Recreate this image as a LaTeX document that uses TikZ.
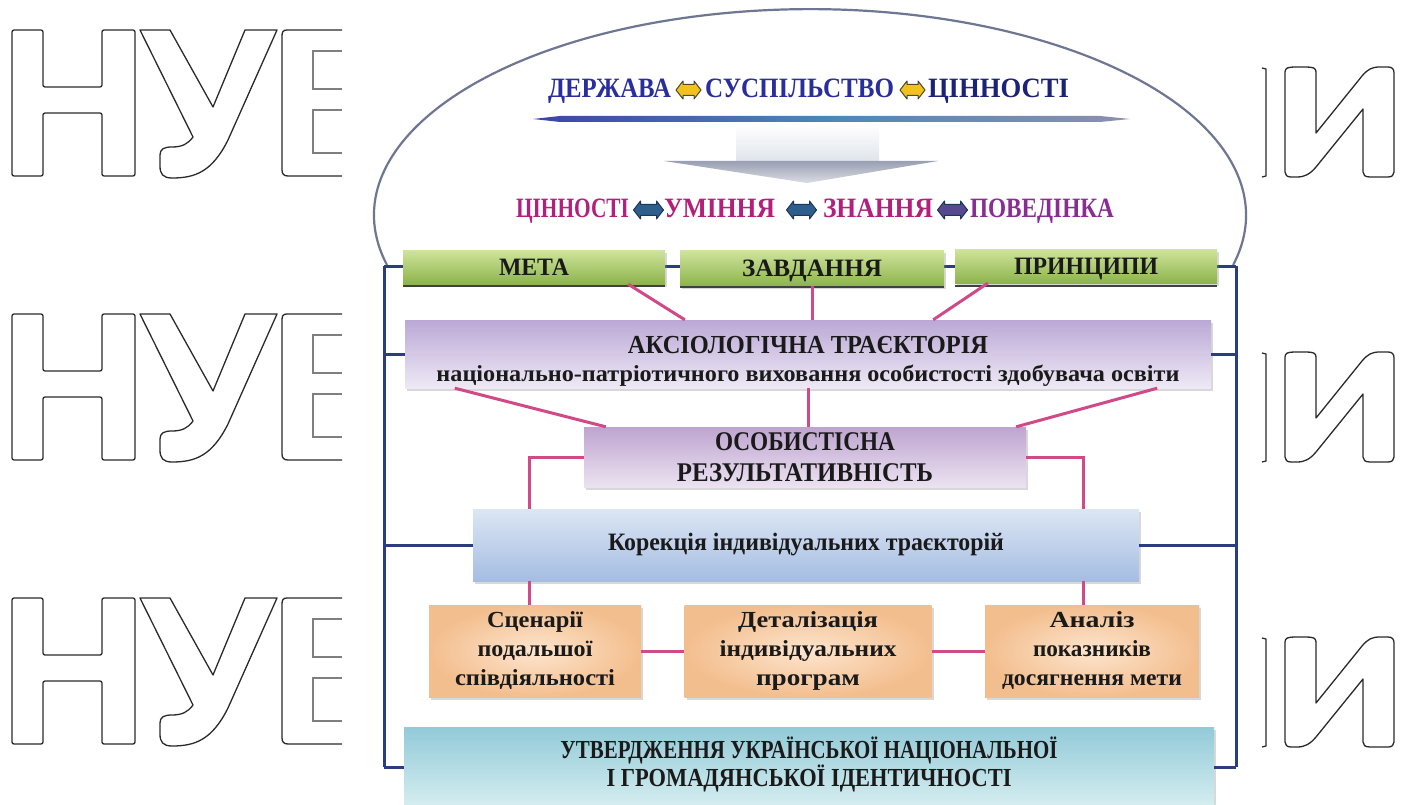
\documentclass[tikz,border=0pt]{standalone}
\usepackage{fontspec}
\setmainfont{Liberation Serif}
\usepackage{graphicx}
\usetikzlibrary{calc,shadows}
\newcommand\fw[2]{\resizebox{#1pt}{\height}{#2}}
\newcommand\fsz[2]{\fontsize{#1pt}{#2pt}\selectfont}
\newcommand\dblar[5]{\filldraw[fill=#4, draw=#5, line width=1pt, line join=round] (#1-#3,#2) -- (#1-#3+7,#2-9) -- (#1-#3+7,#2-5.5) -- (#1+#3-7,#2-5.5) -- (#1+#3-7,#2-9) -- (#1+#3,#2) -- (#1+#3-7,#2+9) -- (#1+#3-7,#2+5.5) -- (#1-#3+7,#2+5.5) -- (#1-#3+7,#2+9) -- cycle;}
\definecolor{navyF}{HTML}{2B3D7A}
\definecolor{domeC}{HTML}{6E7692}
\definecolor{pinkC}{HTML}{D14A88}
\definecolor{wmC}{HTML}{2A2A2A}
\definecolor{topBlue}{HTML}{2A2E9C}
\definecolor{topBlueD}{HTML}{1C2275}
\definecolor{magC}{HTML}{B3207C}
\definecolor{purC}{HTML}{8A2D92}
\definecolor{yelA}{HTML}{F2C11E}
\definecolor{yelD}{HTML}{4C4A22}
\definecolor{tealA}{HTML}{2E5F8C}
\definecolor{tealD}{HTML}{1E3556}
\definecolor{grT}{HTML}{CFE49C}
\definecolor{grB}{HTML}{8DB44C}
\definecolor{puT}{HTML}{BBA8D6}
\definecolor{puB}{HTML}{EEE9F5}
\definecolor{moT}{HTML}{BEA5D0}
\definecolor{moB}{HTML}{ECE2F1}
\definecolor{blT}{HTML}{DCE6F4}
\definecolor{blB}{HTML}{A5BDE2}
\definecolor{orI}{HTML}{FDE5CE}
\definecolor{orO}{HTML}{F3BE8E}
\definecolor{tqT}{HTML}{92CAD8}
\definecolor{tqB}{HTML}{D6EEF0}
\definecolor{txtC}{HTML}{1A1A1A}
\begin{document}
\begin{tikzpicture}[x=1pt,y=-1pt,
 wm/.style={draw=wmC, line width=1.3pt, line join=round},
 wml/.style={draw=wmC!60, line width=1.1pt},
 domeline/.style={draw=domeC, line width=2.2pt},
 frameline/.style={draw=navyF, line width=3pt},
 conn/.style={draw=pinkC, line width=3pt},
 gline/.style={draw=black!75, line width=2pt},
 bx/.style={inner sep=0pt, align=center, text=txtC, drop shadow={shadow xshift=2pt, shadow yshift=-2.5pt, opacity=0.3}},
 greenbox/.style={bx, top color=grT, bottom color=grB, minimum height=34pt, font=\bfseries\fsz{25}{28}, text height=16pt, text depth=0pt},
 purplebox/.style={bx, top color=puT, bottom color=puB},
 mauvebox/.style={bx, top color=moT, bottom color=moB},
 bluebox/.style={bx, top color=blT, bottom color=blB},
 orangebox/.style={bx, inner color=orI, outer color=orO, minimum width=0pt, minimum height=92pt, font=\bfseries\fsz{23}{29}},
 tealbox/.style={bx, top color=tqT, bottom color=tqB},
 topw/.style={inner sep=0pt, anchor=base, font=\bfseries\fsz{28}{30}}
]
\useasboundingbox (0,0) rectangle (1408,805);
\fill[white] (0,0) rectangle (1408,805);

% watermark, left
\foreach \dy in {0,284,568}{
\begin{scope}[shift={(0,\dy)}]
\draw[wm, rounded corners=2pt] (12,30) -- (12,176) -- (43,176) -- (43,113) -- (102,113) -- (102,176) -- (135,176) -- (135,30) -- (102,30) -- (102,87) -- (43,87) -- (43,30) -- cycle;
\draw[wm] (140,30) -- (170,30) -- (213,107) -- (245,30) -- (277,30) -- (228,140) .. controls (212,172) and (195,178) .. (172,178) .. controls (163,178) and (160,174) .. (160,166) -- (160,155) .. controls (160,149) and (164,147) .. (172,147) .. controls (182,147) and (188,144) .. (193,137) -- cycle;
\draw[wm] (342,30) -- (287,30) .. controls (283,30) and (282,32) .. (282,36) -- (282,170) .. controls (282,174) and (284,176) .. (288,176) -- (342,176);
\draw[wml] (342,51) -- (313,51) -- (313,89) -- (342,89);
\draw[wml] (342,110) -- (313,110) -- (313,153) -- (342,153);
\end{scope}}
% watermark, right
\foreach \dy in {0,285,570}{
\begin{scope}[shift={(0,\dy)}]
\draw[wm] (1262,68) -- (1266,69) -- (1266,176) -- (1262,177);
\draw[wm] (1285,72) .. controls (1285,68) and (1288,67) .. (1295,67) -- (1306,67) .. controls (1313,67) and (1316,68) .. (1316,72) -- (1316,133) -- (1362,76) .. controls (1368,69) and (1372,67) .. (1380,67) -- (1388,67) .. controls (1392,67) and (1394,69) .. (1394,73) -- (1394,172) .. controls (1394,175) and (1392,177) .. (1388,177) -- (1370,177) .. controls (1365,177) and (1363,175) .. (1363,172) -- (1363,109) -- (1316,167) .. controls (1310,174) and (1305,177) .. (1297,177) -- (1291,177) .. controls (1287,177) and (1285,175) .. (1285,172) -- cycle;
\end{scope}}

% dome
\draw[domeline] (387,265) arc[start angle=166, end angle=374, x radius=436, y radius=206];

% top text line 1
\node[topw, text=topBlue] (w1) at (609.5,98) {\fw{123}{ДЕРЖАВА}};
\node[topw, text=topBlue] (w2) at (799.5,98) {\fw{189}{СУСПІЛЬСТВО}};
\node[topw, text=topBlueD] (w3) at (998.5,98) {\fw{141}{ЦІННОСТІ}};
\dblar{688.5}{90}{12.5}{yelA}{yelD}
\dblar{912.5}{90}{12.5}{yelA}{yelD}
% blue bar
\shade[left color=topBlue!90, right color=topBlue!40!gray!70, middle color=blue!45!cyan!60!black!70] (533,119) -- (560,116) -- (1100,116) -- (1130,119) -- (1100,122) -- (560,122) -- cycle;
% block arrow
\shade[top color=white, bottom color=blT!80!gray!60] (736,124) rectangle (879,162);
\shade[top color=domeC!70, bottom color=domeC!25] (664,161) -- (938,161) -- (807,183) -- cycle;
% top text line 2
\node[topw, text=magC] (v1) at (572.5,218) {\fw{113}{ЦІННОСТІ}};
\node[topw, text=magC] (v2) at (719.5,218) {\fw{111}{УМІННЯ}};
\node[topw, text=magC] (v3) at (878,218) {\fw{110}{ЗНАННЯ}};
\node[topw, text=purC] (v4) at (1042,218) {\fw{144}{ПОВЕДІНКА}};
\dblar{648.5}{210}{15}{tealA}{tealD}
\dblar{801.5}{210}{15}{tealA}{tealD}
\dblar{952.5}{210}{15}{purC!45!tealA}{tealD}

% frame
\coordinate (ftl) at (384,266);
\coordinate (ftr) at (1236,266);
\coordinate (fbl) at (384,767);
\coordinate (fbr) at (1236,767);
\draw[frameline] (ftl) -- (ftr);
\draw[frameline] (ftl) -- (fbl);
\draw[frameline] (ftr) -- (fbr);

% boxes
\node[greenbox, minimum width=262pt] (meta) at (534,267) {\fw{70}{МЕТА}};
\node[greenbox, minimum width=264pt, minimum height=36pt] (zavd) at (812,268) {\fw{140}{ЗАВДАННЯ}};
\node[greenbox, minimum width=262pt] (princ) at (1086,266) {\fw{144}{ПРИНЦИПИ}};
\draw[gline] ([yshift=-2pt]meta.south west) -- ([yshift=-2pt]meta.south east);
\draw[gline] ([yshift=-1pt]zavd.south west) -- ([yshift=-1pt]zavd.south east);
\draw[gline] ([yshift=-3pt]princ.south west) -- ([yshift=-3pt]princ.south east);

\node[purplebox, minimum width=806pt, minimum height=68pt, font=\bfseries\fsz{26}{28}] (aks) at (808,354)
 {\rule{0pt}{32pt}\fw{360}{АКСІОЛОГІЧНА ТРАЄКТОРІЯ}\\\fw{743}{\fsz{23}{23}національно-патріотичного виховання особистості здобувача освіти}};
\node[mauvebox, minimum width=442pt, minimum height=60pt, font=\bfseries\fsz{27}{31}] (osob) at (805,457)
 {\fw{180}{ОСОБИСТІСНА}\\\fw{256}{РЕЗУЛЬТАТИВНІСТЬ}};
\node[bluebox, minimum width=666pt, minimum height=72pt, font=\bfseries\fsz{25}{26}] (kor) at (806,545)
 {\fw{396}{Корекція індивідуальних траєкторій}};
\node[orangebox, minimum width=212pt] (scen) at (535,651)
 {\fw{96}{Сценарії}\\\fw{115}{подальшої}\\\fw{160}{співдіяльності}};
\node[orangebox, minimum width=247pt] (detal) at (808,651)
 {\fw{140}{Деталізація}\\\fw{177}{індивідуальних}\\\fw{104}{програм}};
\node[orangebox, minimum width=214pt] (anal) at (1092,651)
 {\fw{85}{Аналіз}\\\fw{118}{показників}\\\fw{180}{досягнення мети}};
\node[tealbox, minimum width=810pt, minimum height=80pt, font=\bfseries\fsz{26}{28}] (utv) at (809,767)
 {\fw{497}{УТВЕРДЖЕННЯ УКРАЇНСЬКОЇ НАЦІОНАЛЬНОЇ}\\\fw{405}{І ГРОМАДЯНСЬКОЇ ІДЕНТИЧНОСТІ}\rule[-10pt]{0pt}{0pt}};

% frame stubs
\draw[frameline] (aks.west -| ftl) -- (aks.west);
\draw[frameline] (aks.east) -- (aks.east -| ftr);
\draw[frameline] (kor.west -| ftl) -- (kor.west);
\draw[frameline] (kor.east) -- (kor.east -| ftr);
\draw[frameline] (fbl) -- (fbl -| utv.west);
\draw[frameline] (fbr -| utv.east) -- (fbr);

% pink connectors
\draw[conn] ($(meta.south east)+(-37,0)$) -- ($(aks.north west)+(280,0)$);
\draw[conn] (zavd.south) -- (zavd.south |- aks.north);
\draw[conn] ($(princ.south west)+(33,0)$) -- ($(aks.north east)+(-278,0)$);
\draw[conn] ($(aks.south west)+(50,0)$) -- ($(osob.north west)+(22,0)$);
\draw[conn] (aks.south) -- (aks.south |- osob.north);
\draw[conn] ($(aks.south east)+(-54,0)$) -- ($(osob.north east)+(-10,0)$);
\coordinate (kl) at ($(kor.north west)+(57,0)$);
\coordinate (kr) at ($(kor.north east)+(-56,0)$);
\draw[conn] (osob.west) -| (kl);
\draw[conn] (osob.east) -| (kr);
\draw[conn] (kl |- kor.south) -- (kl |- scen.north);
\draw[conn] (kr |- kor.south) -- (kr |- anal.north);
\draw[conn] (scen.east) -- (detal.west);
\draw[conn] (detal.east) -- (anal.west);
\end{tikzpicture}
\end{document}
